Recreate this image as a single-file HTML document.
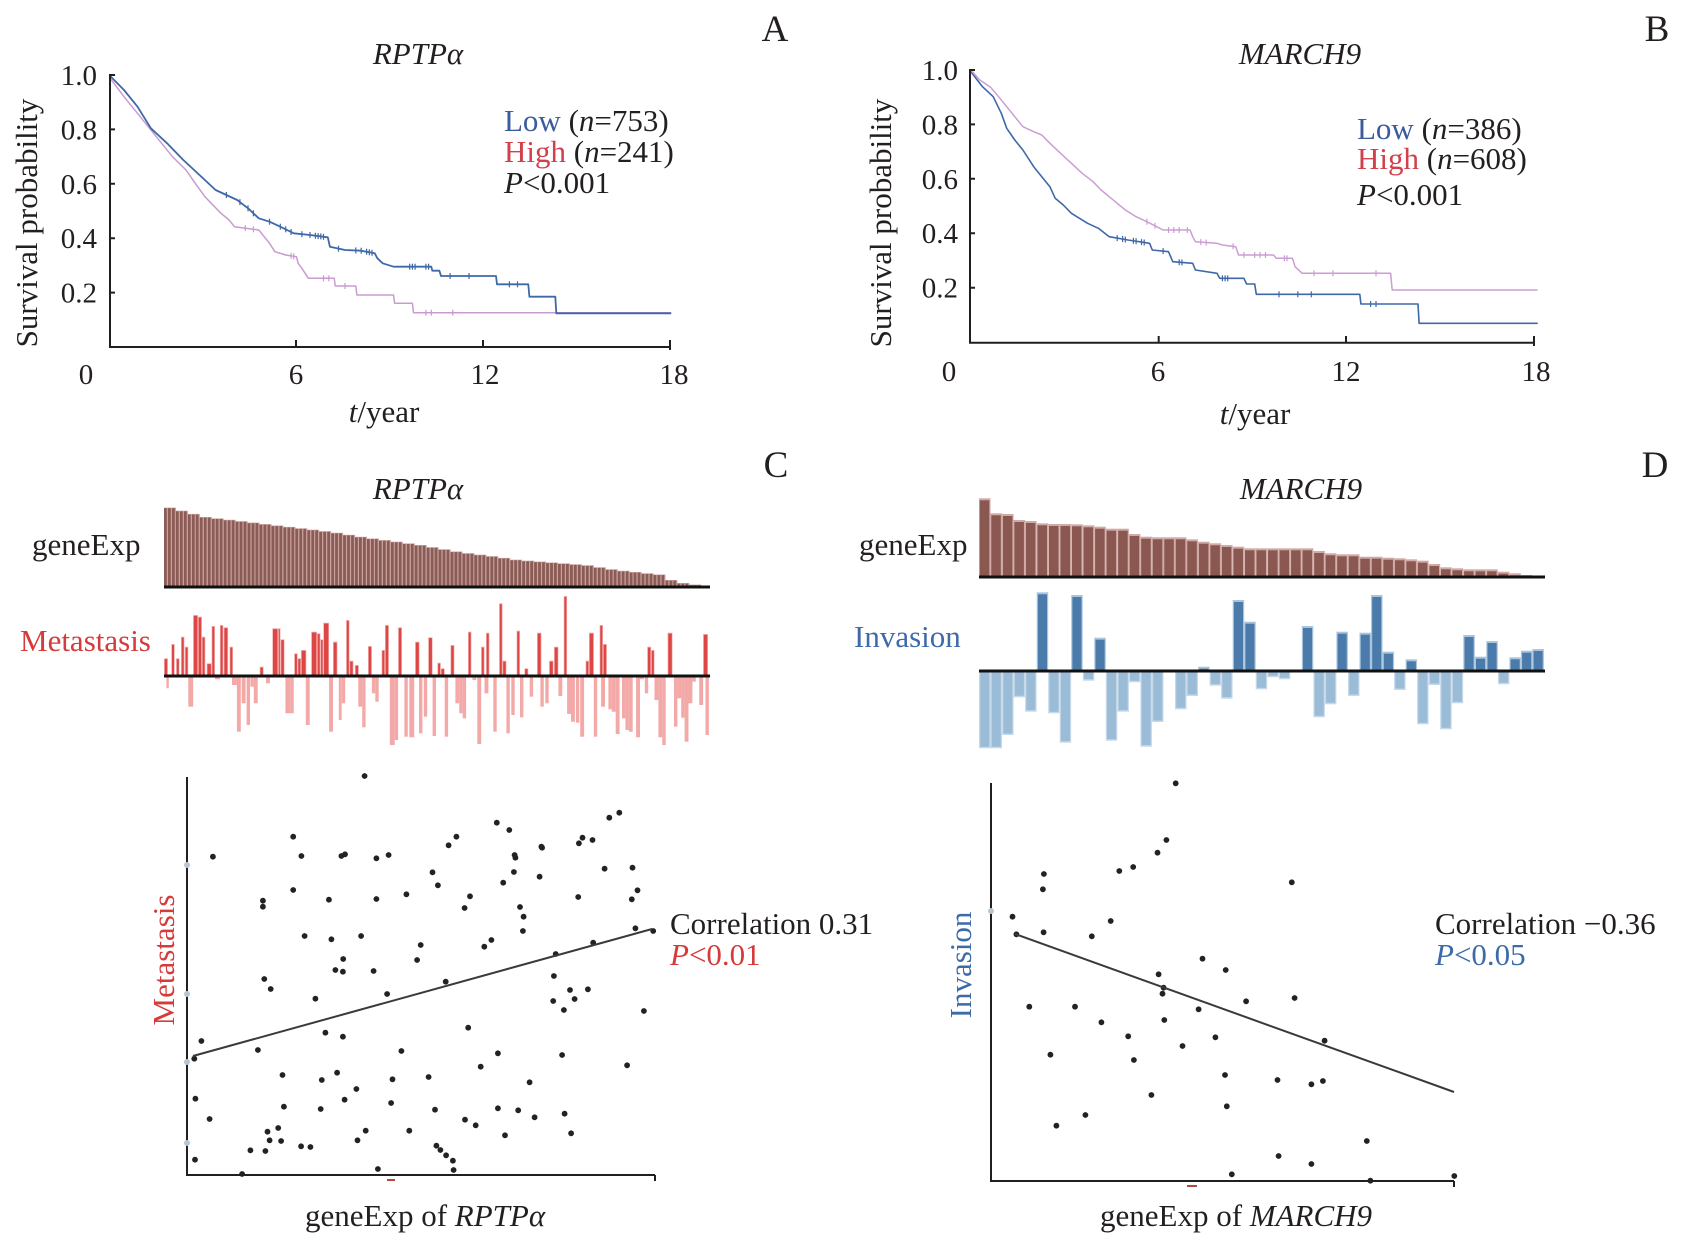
<!DOCTYPE html>
<html><head><meta charset="utf-8"><style>
html,body{margin:0;padding:0;background:#fff;}
svg{display:block;}
text{font-family:"Liberation Serif","Times New Roman",serif;fill:#231f20;}
</style></head><body>
<svg id="s" xmlns="http://www.w3.org/2000/svg" width="1689" height="1241" viewBox="0 0 1689 1241">
<rect width="1689" height="1241" fill="#fff"/>
<g id="dyn"></g>

<!-- Axes A -->
<g stroke="#231f20" stroke-width="2" fill="none">
<path d="M110 74 V347 H671"/>
<path d="M110 75 H115 M110 129.4 H115 M110 183.8 H115 M110 238.2 H115 M110 292.6 H115"/>
<path d="M296 340 V347 M483 340 V347 M670 340 V350"/>
</g>
<!-- Axes B -->
<g stroke="#231f20" stroke-width="2" fill="none">
<path d="M970 69 V342.7 H1535"/>
<path d="M970 70 H975 M970 124.4 H975 M970 178.8 H975 M970 233.2 H975 M970 287.7 H975"/>
<path d="M1158.7 336 V342.7 M1346 336 V342.7 M1534 336 V346"/>
</g>

<!-- Text A -->
<text x="775" y="41" font-size="37" text-anchor="middle">A</text>
<text x="418" y="64" font-size="31" font-style="italic" text-anchor="middle">RPTPα</text>
<g font-size="29" text-anchor="end">
<text x="97" y="85">1.0</text><text x="97" y="139.4">0.8</text><text x="97" y="193.8">0.6</text><text x="97" y="248.2">0.4</text><text x="97" y="302.6">0.2</text>
</g>
<g font-size="29" text-anchor="middle">
<text x="86" y="384">0</text><text x="296" y="384">6</text><text x="485" y="384">12</text><text x="674" y="384">18</text>
</g>
<text x="384" y="422" font-size="31" text-anchor="middle"><tspan font-style="italic">t</tspan>/year</text>
<text transform="translate(37,223) rotate(-90)" font-size="31" text-anchor="middle">Survival probability</text>
<text x="504" y="131" font-size="31"><tspan style="fill:#3a5b9e">Low</tspan> (<tspan font-style="italic">n</tspan>=753)</text>
<text x="504" y="162" font-size="31"><tspan style="fill:#d2404b">High</tspan> (<tspan font-style="italic">n</tspan>=241)</text>
<text x="504" y="193" font-size="31"><tspan font-style="italic">P</tspan>&lt;0.001</text>

<!-- Text B -->
<text x="1657" y="41" font-size="37" text-anchor="middle">B</text>
<text x="1300" y="64" font-size="31" font-style="italic" text-anchor="middle">MARCH9</text>
<g font-size="29" text-anchor="end">
<text x="958" y="80">1.0</text><text x="958" y="134.4">0.8</text><text x="958" y="188.8">0.6</text><text x="958" y="243.2">0.4</text><text x="958" y="297.7">0.2</text>
</g>
<g font-size="29" text-anchor="middle">
<text x="949" y="381">0</text><text x="1158" y="381">6</text><text x="1346" y="381">12</text><text x="1536" y="381">18</text>
</g>
<text x="1255" y="424" font-size="31" text-anchor="middle"><tspan font-style="italic">t</tspan>/year</text>
<text transform="translate(891,223) rotate(-90)" font-size="31" text-anchor="middle">Survival probability</text>
<text x="1357" y="139" font-size="31"><tspan style="fill:#3a5b9e">Low</tspan> (<tspan font-style="italic">n</tspan>=386)</text>
<text x="1357" y="169" font-size="31"><tspan style="fill:#d2404b">High</tspan> (<tspan font-style="italic">n</tspan>=608)</text>
<text x="1357" y="205" font-size="31"><tspan font-style="italic">P</tspan>&lt;0.001</text>

<!-- Text C/D headers -->
<text x="776" y="477" font-size="37" text-anchor="middle">C</text>
<text x="1655" y="477" font-size="37" text-anchor="middle">D</text>
<text x="418" y="499" font-size="31" font-style="italic" text-anchor="middle">RPTPα</text>
<text x="1301" y="499" font-size="31" font-style="italic" text-anchor="middle">MARCH9</text>
<text x="32" y="555" font-size="31">geneExp</text>
<text x="20" y="651" font-size="31" style="fill:#d63a3a">Metastasis</text>
<text x="859" y="555" font-size="31">geneExp</text>
<text x="854" y="647" font-size="31" style="fill:#3d6aa8">Invasion</text>

<!-- bar baselines -->
<g stroke="#111" stroke-width="3">
<line x1="164" y1="587" x2="710" y2="587"/>
<line x1="164" y1="676" x2="710" y2="676"/>
<line x1="979" y1="577" x2="1545" y2="577"/>
<line x1="979" y1="671" x2="1545" y2="671"/>
</g>

<!-- Scatter axes -->
<g stroke="#231f20" stroke-width="2" fill="none">
<path d="M187 777 V1175 H655"/>
<path d="M655 1175 V1181"/>
<path d="M991 783 V1181 H1454"/>
<path d="M1454 1181 V1187"/>
</g>
<g fill="#b9c6d2">
<circle cx="187" cy="865" r="3"/><circle cx="187" cy="994" r="3"/><circle cx="187" cy="1062" r="3"/><circle cx="187" cy="1143" r="3"/>
<circle cx="991" cy="911" r="3"/>
</g>
<line x1="387" y1="1180" x2="395" y2="1180" stroke="#b34a3a" stroke-width="2"/>
<line x1="1187" y1="1186" x2="1197" y2="1186" stroke="#b34a3a" stroke-width="2"/>
<line x1="193" y1="1056" x2="652" y2="929" stroke="#3a3a3a" stroke-width="2"/>
<line x1="1015" y1="934" x2="1454" y2="1092" stroke="#3a3a3a" stroke-width="2"/>

<text transform="translate(174,960) rotate(-90)" font-size="31" text-anchor="middle" style="fill:#d63a3a">Metastasis</text>
<text x="305" y="1226" font-size="31">geneExp of <tspan font-style="italic">RPTPα</tspan></text>
<text x="670" y="934" font-size="31">Correlation 0.31</text>
<text x="670" y="965" font-size="31" style="fill:#d63a3a"><tspan font-style="italic" style="fill:#d63a3a">P</tspan>&lt;0.01</text>

<text transform="translate(971,965) rotate(-90)" font-size="31" text-anchor="middle" style="fill:#3d6aa8">Invasion</text>
<text x="1100" y="1226" font-size="31">geneExp of <tspan font-style="italic">MARCH9</tspan></text>
<text x="1435" y="934" font-size="31">Correlation −0.36</text>
<text x="1435" y="965" font-size="31" style="fill:#3d6aa8"><tspan font-style="italic" style="fill:#3d6aa8">P</tspan>&lt;0.05</text>
</svg>
<script>
(function(){
var NS='http://www.w3.org/2000/svg';
var root=document.getElementById('dyn');
function el(t,a,p){var e=document.createElementNS(NS,t);for(var k in a)e.setAttribute(k,a[k]);(p||root).appendChild(e);return e;}
function f(v){return Math.round(v*10)/10;}
function yAt(P,x){for(var i=1;i<P.length;i++){if(P[i][0]>=x){var a=P[i-1],b=P[i];if(b[0]===a[0])return b[1];return a[1]+(b[1]-a[1])*(x-a[0])/(b[0]-a[0]);}}return P[P.length-1][1];}
function surv(pts,ox,col,w,cens){
  var P=pts.map(function(p){return [ox+p[0]/1.855,p[1]/3];});
  var d='';P.forEach(function(p,i){d+=(i?'L':'M')+f(p[0])+' '+f(p[1]);});
  el('path',{d:d,fill:'none',stroke:col,'stroke-width':w,'stroke-linejoin':'round'});
  (cens||[]).forEach(function(zx){var x=ox+zx/1.855,y=yAt(P,x);
    el('line',{x1:f(x),x2:f(x),y1:f(y-3),y2:f(y+3),stroke:col,'stroke-width':1.2});});
}
// A
surv([[203,232],[230,290],[260,350],[290,410],[320,470],[345,510],[360,545],[380,590],[395,615],[410,640],[425,660],[435,680],[480,690],[490,710],[500,730],[510,755],[530,765],[550,770],[553,790],[560,805],[572,835],[620,835],[622,858],[660,858],[662,885],[730,885],[732,910],[765,910],[767,938],[1245,938]],0,'#c99bd0',1.5,[455,470,540,545,600,610,640,790,800,840]);
surv([[203,226],[230,270],[255,320],[280,385],[310,430],[340,480],[370,525],[400,570],[420,585],[440,600],[460,625],[480,655],[500,665],[520,680],[545,700],[575,705],[608,712],[612,740],[625,745],[640,750],[670,752],[695,760],[700,775],[710,790],[730,800],[800,800],[802,812],[815,812],[818,828],[920,828],[922,853],[980,853],[982,890],[1030,890],[1032,940],[1245,940]],0,'#3e68a8',1.8,[420,445,460,470,500,520,530,540,560,575,585,590,595,600,628,660,670,680,685,690,760,765,770,790,795,835,870,945,960]);
// B
surv([[232,212],[255,260],[275,290],[290,340],[300,385],[315,420],[330,450],[350,500],[365,530],[380,560],[390,595],[405,615],[420,640],[450,670],[470,685],[490,710],[525,720],[565,730],[570,750],[600,755],[608,785],[645,790],[650,810],[690,820],[695,835],[740,835],[745,852],[760,852],[763,883],[955,883],[957,912],[1063,912],[1065,970],[1285,970]],845,'#3e68a8',1.6,[505,515,520,535,540,550,555,590,620,625,700,705,710,805,840,865,975,985]);
surv([[232,208],[250,240],[270,262],[285,290],[300,320],[315,350],[330,380],[350,395],[365,405],[380,430],[400,460],[420,490],[440,520],[460,545],[475,570],[490,590],[505,610],[520,630],[540,650],[560,665],[590,690],[640,690],[645,710],[650,725],[690,730],[700,735],[725,740],[730,765],[795,765],[800,775],[830,775],[835,800],[848,820],[1012,820],[1015,870],[1285,870]],845,'#cc9dd4',1.5,[560,575,600,610,620,635,660,670,720,740,760,770,780,815,820,870,905,985]);

// C geneExp
var prof=[[164,506],[206,517],[274,525],[333,532],[363,537],[422,545],[461,552],[500,557],[520,560],[588,565],[618,570],[667,575],[674,580],[686,583],[701,585],[716,587]];
function pi(x){for(var i=1;i<prof.length;i++){if(prof[i][0]>=x){var a=prof[i-1],b=prof[i];return a[1]+(b[1]-a[1])*(x-a[0])/(b[0]-a[0]);}}return 587;}
for(var i=0;i<137;i++){var x=164+i*3.98;var t=pi(164+Math.floor(i/3)*12+6);
  if(t>586)continue;
  el('rect',{x:f(x),y:f(t),width:4,height:f(587-t),fill:'#c9a29e'});
  el('rect',{x:f(x),y:f(t+0.6),width:2.8,height:f(587-t-0.6),fill:'#8b5b55'});
}
// C metastasis
function mx(zx){return 164+(zx-340)/2.059;}
var pos=[[340,348,655],[355,362,612],[365,372,655],[375,382,590],[383,390,620],[400,410,525],[410,418,530],[418,425,590],[428,438,670],[438,445,558],[455,462,555],[463,472,562],[475,482,620],[537,545,680],[563,575,565],[575,580,565],[580,588,598],[608,615,640],[615,622,655],[622,633,630],[643,655,575],[655,662,580],[662,668,598],[668,680,548],[688,697,605],[715,722,540],[722,730,662],[733,741,675],[760,768,618],[788,795,630],[795,803,555],[822,830,562],[857,866,605],[884,893,592],[903,910,668],[910,918,685],[930,938,615],[966,973,575],[993,1000,620],[1003,1010,578],[1030,1037,490],[1037,1045,662],[1066,1073,572],[1082,1090,685],[1108,1117,578],[1133,1142,662],[1143,1152,620],[1163,1170,468],[1208,1215,662],[1215,1225,578],[1237,1244,555],[1244,1252,612],[1335,1343,620],[1343,1350,630],[1377,1387,578],[1450,1460,582]];
var neg=[[345,350,745],[390,400,800],[445,455,718],[480,490,735],[490,498,875],[500,508,790],[510,517,855],[518,525,740],[525,533,790],[550,558,730],[590,600,820],[600,607,820],[632,640,855],[680,688,875],[700,706,840],[706,713,790],[740,748,800],[748,755,862],[768,775,760],[775,782,785],[805,815,915],[815,822,900],[835,842,890],[845,855,892],[865,872,880],[875,882,830],[893,900,888],[918,925,890],[940,948,790],[948,955,820],[955,962,835],[975,983,720],[985,993,912],[1000,1008,760],[1018,1025,875],[1045,1052,880],[1055,1062,825],[1073,1080,832],[1093,1100,770],[1115,1122,800],[1125,1132,790],[1152,1160,768],[1170,1178,822],[1178,1186,845],[1188,1195,848],[1197,1205,890],[1225,1232,890],[1240,1248,800],[1255,1262,808],[1262,1270,815],[1270,1278,882],[1283,1290,835],[1290,1297,870],[1297,1305,875],[1312,1320,892],[1320,1328,718],[1330,1337,760],[1350,1358,780],[1358,1366,892],[1366,1373,915],[1390,1397,860],[1397,1405,775],[1405,1412,833],[1412,1420,905],[1420,1428,790],[1428,1435,725],[1442,1450,795],[1455,1462,885]];
neg.forEach(function(b){var x=mx(b[0]),w=(b[1]-b[0])/2.059,y=440+b[2]/3;
  el('rect',{x:f(x),y:676,width:f(w),height:f(y-676),fill:'#f3a9a7'});});
pos.forEach(function(b){var x=mx(b[0]),w=(b[1]-b[0])/2.059,y=440+b[2]/3;
  el('rect',{x:f(x),y:f(y),width:f(w),height:f(676-y),fill:'#f2b2b0'});
  el('rect',{x:f(x+0.7),y:f(y+0.8),width:f(Math.max(w-1.4,1)),height:f(676-y-0.8),fill:'#de4545'});});

// D bars
var gt=[175,220,222,240,243,250,252,252,253,256,260,266,266,282,290,292,292,292,298,305,310,315,320,325,325,325,325,325,325,333,340,343,343,350,350,353,355,358,362,372,382,385,388,388,388,395,400,405,408];
var inv=[925,925,885,772,815,457,820,908,465,722,593,902,815,727,920,846,null,808,768,680,737,776,480,545,748,712,718,null,558,832,793,575,768,578,465,635,750,658,853,735,868,790,585,650,603,733,652,632,627];
for(var j=0;j<49;j++){var x=979+j*11.53,w=11.53;
  var t=440+gt[j]/3;
  el('rect',{x:f(x),y:f(t),width:f(w),height:f(577-t),fill:'#d0aaa6'});
  el('rect',{x:f(x+0.8),y:f(t+2),width:f(w-2),height:f(577-t-2),fill:'#8a5751'});
  var v=inv[j];if(v===null)continue;var y=440+v/3;
  if(y<671){el('rect',{x:f(x),y:f(y),width:f(w),height:f(671-y),fill:'#a9c5de'});
    el('rect',{x:f(x+1.2),y:f(y+2),width:f(w-2.4),height:f(671-y-2),fill:'#4a7bab'});}
  else{el('rect',{x:f(x),y:671,width:f(w),height:f(y-671),fill:'#c6d9ea'});
    el('rect',{x:f(x+1.2),y:671,width:f(w-2.4),height:f(Math.max(y-671-1.5,0)),fill:'#9bbcd7'});}
}

// scatter dots
var cd=[[685,18],[260,260],[485,200],[508,258],[620,258],[630,253],[718,265],[752,255],[920,226],[942,200],[1055,158],[1090,180],[1180,230],[1182,233],[1285,220],[1295,203],[1323,210],[1370,143],[1398,128],[1105,255],[1107,263],[1103,306],[875,307],[890,346],[1073,338],[1175,320],[1357,296],[1435,293],[485,360],[400,392],[400,410],[585,389],[718,387],[802,373],[980,379],[965,414],[1120,411],[1130,440],[1128,483],[1283,381],[1433,388],[1449,361],[1443,475],[1493,483],[517,498],[592,508],[675,498],[842,525],[1040,510],[1020,530],[625,567],[832,570],[1325,518],[1220,552],[603,600],[624,605],[710,603],[404,627],[422,657],[547,686],[748,672],[912,635],[1215,618],[1260,660],[1310,658],[1213,693],[1273,687],[1243,720],[1467,723],[228,813],[575,788],[624,800],[975,773],[386,840],[788,843],[1058,850],[1238,855],[1010,890],[1420,886],[208,866],[455,915],[565,930],[608,908],[763,928],[864,921],[662,957],[1147,937],[211,986],[629,989],[759,999],[459,1010],[562,1017],[882,1019],[1058,1015],[1115,1021],[1245,1031],[251,1047],[966,1049],[996,1066],[1161,1042],[1263,1090],[1078,1096],[413,1085],[443,1074],[688,1082],[810,1082],[419,1111],[451,1113],[665,1111],[365,1141],[407,1143],[507,1129],[533,1131],[886,1127],[897,1140],[913,1156],[932,1172],[934,1200],[210,1169],[722,1197],[342,1212]];
var dd=[[660,40],[634,210],[609,248],[541,291],[502,303],[291,312],[288,358],[985,337],[203,440],[478,453],[290,487],[425,499],[214,493],[735,566],[800,600],[612,613],[626,653],[623,671],[993,684],[857,694],[250,710],[378,710],[724,718],[628,750],[452,757],[527,799],[771,802],[679,828],[1077,812],[309,854],[543,870],[798,915],[945,930],[1040,943],[1072,933],[592,975],[803,1009],[407,1035],[326,1067],[1195,1113],[948,1158],[1040,1182],[817,1213],[1205,1232],[1440,1218]];
cd.forEach(function(p){el('circle',{cx:f(120+p[0]/2.8),cy:f(770+p[1]/3),r:2.9,fill:'#222'});});
dd.forEach(function(p){el('circle',{cx:f(940+p[0]/2.8),cy:f(770+p[1]/3),r:2.9,fill:'#222'});});
})();
</script>
</body></html>
